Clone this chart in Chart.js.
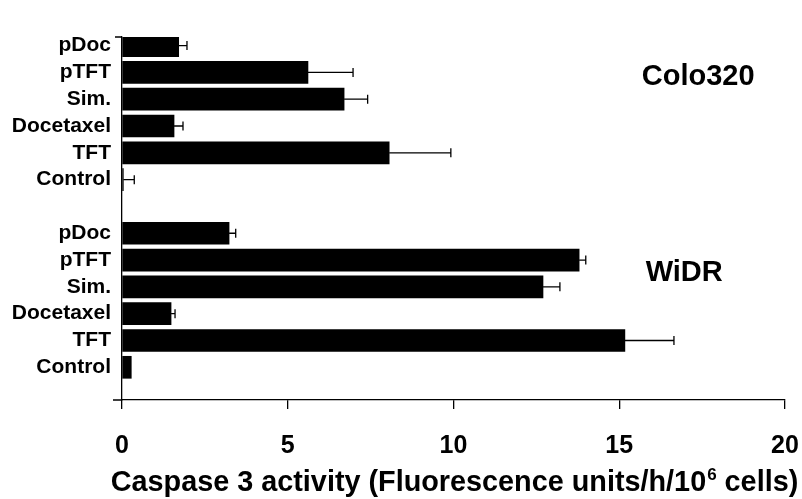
<!DOCTYPE html>
<html>
<head>
<meta charset="utf-8">
<script src="https://cdn.jsdelivr.net/npm/chart.js@4.4.1/dist/chart.umd.min.js"></script>
<style>
  html, body { margin: 0; padding: 0; background: #fff; }
  #wrap { width: 802px; height: 499px; }
</style>
</head>
<body>
<div id="wrap"><canvas id="chartCaspase" width="802" height="499"></canvas></div>
<script>
/* Caspase 3 activity, horizontal bars with +SD error bars */

const treatments    = ['pDoc', 'pTFT', 'Sim.', 'Docetaxel', 'TFT', 'Control'];
const colo320Rows   = [0, 1, 2, 3, 4, 5];
const widrRows      = [7, 8, 9, 10, 11, 12];
const colo320Values = [1.71, 5.61, 6.70, 1.57, 8.06, 0.04];
const colo320Errors = [0.25, 1.36, 0.71, 0.27, 1.86, 0.33];
const widrValues    = [3.23, 13.79, 12.70, 1.48, 15.17, 0.28];
const widrErrors    = [0.20, 0.20, 0.51, 0.12, 1.48, 0.00];
const xTicks        = [0, 5, 10, 15, 20];
const groupNames    = ['Colo320', 'WiDR'];

const FONT = '"Liberation Sans", Arial, sans-serif';
const AXIS_TITLE = ['Caspase 3 activity (Fluorescence units/h/10', '6', ' cells)'];

// anchors of the cell line names (in data units)
const groupAnchors = [{ x: 17.38, y: 1.18 }, { x: 16.96, y: 8.48 }];

const rowLabel = {};
colo320Rows.forEach((r, i) => { rowLabel[r] = treatments[i]; });
widrRows.forEach((r, i) => { rowLabel[r] = treatments[i]; });

const toPoints = (rows, vals) => rows.map((r, i) => ({ x: vals[i], y: r }));

// error bars + axis decorations + group names + x title
const extrasPlugin = {
  id: 'extras',
  afterDatasetsDraw(chart) {
    const { ctx, scales: { x, y } } = chart;
    const errs = [colo320Errors, widrErrors];
    const vals = [colo320Values, widrValues];
    const rows = [colo320Rows, widrRows];
    ctx.save();
    ctx.strokeStyle = '#000';
    ctx.lineWidth = 1.3;
    rows.forEach((rr, g) => {
      rr.forEach((r, i) => {
        if (!errs[g][i]) return;
        const x0 = x.getPixelForValue(vals[g][i]);
        const x1 = x.getPixelForValue(vals[g][i] + errs[g][i]);
        const py = y.getPixelForValue(r);
        ctx.beginPath();
        ctx.moveTo(x0, py);
        ctx.lineTo(x1, py);
        ctx.moveTo(x1, py - 4.5);
        ctx.lineTo(x1, py + 4.5);
        ctx.stroke();
      });
    });
    ctx.restore();
  },
  afterDraw(chart) {
    const { ctx, chartArea: a, scales: { x, y } } = chart;
    ctx.save();
    // small ticks at both ends of the y axis
    ctx.strokeStyle = '#000';
    ctx.lineWidth = 1.3;
    ctx.beginPath();
    ctx.moveTo(a.left - 7, a.top);
    ctx.lineTo(a.left, a.top);
    ctx.moveTo(a.left - 9, a.bottom);
    ctx.lineTo(a.left, a.bottom);
    ctx.stroke();

    // cell line names
    ctx.fillStyle = '#000';
    ctx.font = 'bold 29px ' + FONT;
    ctx.textAlign = 'center';
    ctx.textBaseline = 'middle';
    groupNames.forEach((n, i) => {
      ctx.fillText(n, x.getPixelForValue(groupAnchors[i].x), y.getPixelForValue(groupAnchors[i].y));
    });

    // x axis title with superscript
    const big = 'bold 28.8px ' + FONT;
    const small = 'bold 17px ' + FONT;
    ctx.textAlign = 'left';
    ctx.textBaseline = 'alphabetic';
    ctx.font = big;
    const w1 = ctx.measureText(AXIS_TITLE[0]).width;
    const w3 = ctx.measureText(AXIS_TITLE[2]).width;
    ctx.font = small;
    const w2 = ctx.measureText(AXIS_TITLE[1]).width;
    const cx = (a.left + a.right) / 2 + 1;
    let sx = cx - (w1 + w2 + w3 + 1) / 2;
    const base = 491;
    ctx.font = big;
    ctx.fillText(AXIS_TITLE[0], sx, base);
    sx += w1;
    ctx.font = small;
    ctx.fillText(AXIS_TITLE[1], sx + 1, base - 11);
    sx += w2 + 1;
    ctx.font = big;
    ctx.fillText(AXIS_TITLE[2], sx, base);
    ctx.restore();
  }
};

new Chart(document.getElementById('chartCaspase'), {
  type: 'bar',
  data: {
    datasets: [
      { label: groupNames[0], data: toPoints(colo320Rows, colo320Values), backgroundColor: '#000' },
      { label: groupNames[1], data: toPoints(widrRows, widrValues), backgroundColor: '#000' },
    ]
  },
  options: {
    responsive: false,
    animation: false,
    indexAxis: 'y',
    layout: { padding: { top: 37, right: 0, left: 0, bottom: 0 } },
    datasets: {
      bar: {
        grouped: false,
        barThickness: 22,
        borderWidth: 0,
      }
    },
    scales: {
      y: {
        type: 'linear',
        reverse: true,
        offset: false,
        min: -0.32,
        max: 13.22,
        afterBuildTicks(scale) {
          scale.ticks = Object.keys(rowLabel).map(k => ({ value: +k }));
        },
        afterFit(scale) { scale.width = 122; },
        grid: { display: false, drawTicks: false, offset: false },
        border: { display: true, color: '#000', width: 1.3 },
        ticks: {
          color: '#000',
          padding: 11,
          font: { family: FONT, size: 21, weight: 'bold' },
          callback: v => rowLabel[v] || '',
        }
      },
      x: {
        type: 'linear',
        min: 0,
        max: 20,
        afterBuildTicks(scale) {
          scale.ticks = xTicks.map(v => ({ value: v }));
        },
        afterFit(scale) {
          scale.height = 99;
          scale.paddingRight = 17;
          scale.paddingLeft = 0;
        },
        grid: { drawOnChartArea: false, drawTicks: true, tickLength: 9, color: '#000', lineWidth: 1.3 },
        border: { display: true, color: '#000', width: 1.3 },
        ticks: {
          color: '#000',
          padding: 22,
          maxRotation: 0,
          font: { family: FONT, size: 25, weight: 'bold' },
        }
      }
    },
    plugins: {
      legend:  { display: false },
      tooltip: { enabled: false },
    }
  },
  plugins: [extrasPlugin]
});
</script>
</body>
</html>
